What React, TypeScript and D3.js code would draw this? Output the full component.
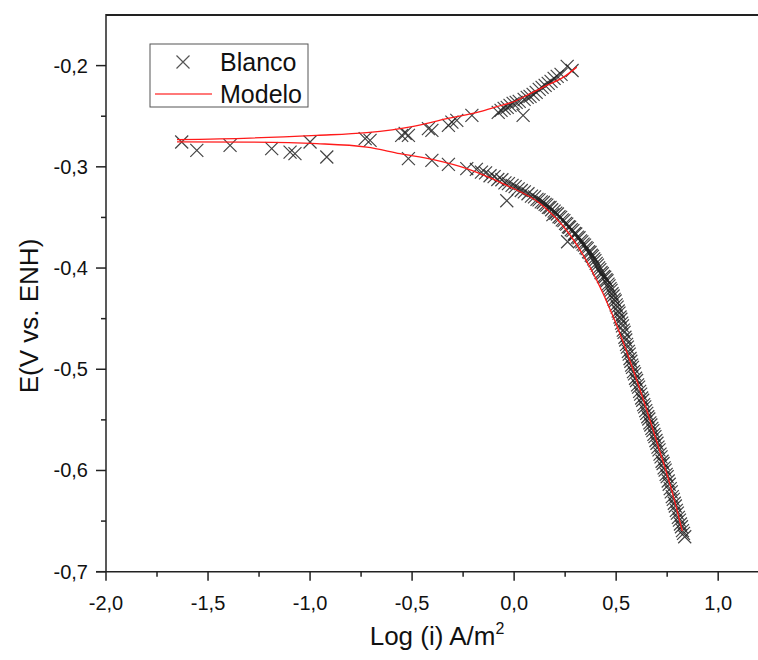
import React from "react";
import * as d3 from "d3";

// ---- data ----
const anodicX = [-1.629,-1.392,-1.188,-1.0,-0.73,-0.706,-0.551,-0.534,-0.518,-0.42,-0.403,-0.322,-0.305,-0.281,-0.207,-0.078,-0.064,-0.049,-0.034,-0.02,-0.005,0.01,0.025,0.044,0.049,0.064,0.078,0.093,0.108,0.123,0.137,0.152,0.167,0.181,0.196,0.211,0.23,0.26,0.284];
const anodicY = [-0.2755,-0.2788,-0.282,-0.2755,-0.2722,-0.2738,-0.2689,-0.2669,-0.2689,-0.2623,-0.264,-0.259,-0.2558,-0.2541,-0.2492,-0.2462,-0.2442,-0.2422,-0.2413,-0.2393,-0.2373,-0.2363,-0.2353,-0.2492,-0.2333,-0.2314,-0.2304,-0.2284,-0.2264,-0.2235,-0.2215,-0.2195,-0.2176,-0.2156,-0.2126,-0.2107,-0.2087,-0.2008,-0.2048];

const cathodicX = [-1.555,-1.098,-1.074,-0.918,-0.518,-0.403,-0.322,-0.232,-0.185,-0.16,-0.14,-0.118,-0.098,-0.08,-0.06,-0.045,-0.036,-0.028,-0.01,0.005,0.02,0.035,0.05,0.068,0.085,0.1,0.112,0.122,0.133,0.143,0.152,0.16,0.168,0.176,0.184,0.19,0.196,0.204,0.212,0.22,0.228,0.236,0.244,0.252,0.258,0.262,0.266,0.272,0.28,0.288,0.296,0.302,0.31,0.318,0.325,0.332,0.338,0.345,0.352,0.358,0.365,0.372,0.378,0.384,0.39,0.396,0.402,0.408,0.414,0.42,0.426,0.432,0.438,0.444,0.45,0.455,0.46,0.465,0.47,0.475,0.48,0.485,0.49,0.495,0.5,0.505,0.51,0.514,0.519,0.523,0.527,0.531,0.535,0.539,0.543,0.547,0.551,0.555,0.56,0.564,0.568,0.572,0.576,0.58,0.585,0.59,0.595,0.6,0.605,0.61,0.615,0.62,0.625,0.63,0.635,0.64,0.645,0.65,0.655,0.66,0.665,0.67,0.675,0.68,0.685,0.69,0.695,0.7,0.705,0.71,0.715,0.72,0.725,0.73,0.735,0.74,0.745,0.75,0.755,0.76,0.765,0.77,0.775,0.78,0.785,0.79,0.795,0.8,0.805,0.81,0.815,0.82,0.825,0.83,0.836];
const cathodicY = [-0.2837,-0.2854,-0.287,-0.2903,-0.2919,-0.2936,-0.2976,-0.3018,-0.3025,-0.3052,-0.306,-0.3088,-0.3097,-0.3125,-0.3128,-0.3158,-0.3335,-0.3166,-0.3183,-0.3195,-0.3218,-0.3234,-0.3248,-0.3266,-0.3289,-0.3297,-0.3321,-0.3326,-0.3346,-0.3352,-0.3371,-0.3378,-0.3401,-0.3402,-0.3424,-0.3472,-0.3437,-0.3458,-0.3466,-0.3493,-0.3499,-0.3524,-0.3531,-0.3559,-0.3566,-0.374,-0.3592,-0.3597,-0.3622,-0.3631,-0.3659,-0.3664,-0.3694,-0.3701,-0.3732,-0.3741,-0.3764,-0.3774,-0.3799,-0.3808,-0.3839,-0.3846,-0.3874,-0.3884,-0.3909,-0.3926,-0.3954,-0.3971,-0.3999,-0.4016,-0.4044,-0.4056,-0.4084,-0.4091,-0.4114,-0.4126,-0.4159,-0.4176,-0.4204,-0.4221,-0.4254,-0.4276,-0.4309,-0.4326,-0.4364,-0.4386,-0.4424,-0.4446,-0.4484,-0.4506,-0.4544,-0.4571,-0.4614,-0.4636,-0.4684,-0.4711,-0.4754,-0.4781,-0.4824,-0.4851,-0.4894,-0.4921,-0.4959,-0.4981,-0.5024,-0.5046,-0.5089,-0.5111,-0.5154,-0.5176,-0.5219,-0.5246,-0.5284,-0.5306,-0.5349,-0.5371,-0.5409,-0.5436,-0.5469,-0.5491,-0.5529,-0.5551,-0.5584,-0.5606,-0.5644,-0.5666,-0.5704,-0.5731,-0.5769,-0.5796,-0.5839,-0.5866,-0.5909,-0.5931,-0.5974,-0.5996,-0.6039,-0.6061,-0.6104,-0.6136,-0.6179,-0.6211,-0.6259,-0.6286,-0.6324,-0.6351,-0.6394,-0.6421,-0.6464,-0.6491,-0.6529,-0.6556,-0.6594,-0.6621,-0.6655];

const upperModelX = [-1.652,-1.294,-0.967,-0.722,-0.494,-0.33,-0.167,-0.085,-0.003,0.078,0.16,0.242,0.307];
const upperModelY = [-0.2731,-0.2716,-0.2689,-0.2662,-0.26,-0.2524,-0.2455,-0.2406,-0.2357,-0.2277,-0.2196,-0.2114,-0.2015];
const lowerModelX = [-1.652,-1.294,-0.967,-0.722,-0.559,-0.396,-0.232,-0.167,-0.036,0.127,0.275,0.405,0.479,0.601,0.707,0.781,0.824];
const lowerModelY = [-0.2753,-0.2756,-0.2771,-0.2805,-0.287,-0.2929,-0.3018,-0.3067,-0.3183,-0.3363,-0.3676,-0.412,-0.4449,-0.5108,-0.5766,-0.626,-0.6598];

const xMajorTicks = [-2.0,-1.5,-1.0,-0.5,0.0,0.5,1.0];
const yMajorTicks = [-0.7,-0.6,-0.5,-0.4,-0.3,-0.2];
const seriesNames = ["Blanco","Modelo"];

const W = 758, H = 660;
const L = 106, R = 759, T = 15, B = 571.7;

const fmt = (v: number) => v.toFixed(1).replace(".", ",");

export default function App() {
  const x = d3.scaleLinear().domain([-2, 1.2]).range([L, R]);
  const y = d3.scaleLinear().domain([-0.7, -0.15]).range([B, T]);
  const xMinor = xMajorTicks.map(v => v + 0.25).filter(v => v < 1.2);
  const yMinor = yMajorTicks.map(v => v + 0.05).filter(v => v < -0.151);

  const line = d3.line<[number, number]>().x(d => x(d[0])).y(d => y(d[1])).curve(d3.curveMonotoneX);
  const upper = line(upperModelX.map((v, i) => [v, upperModelY[i]]) as [number, number][]) || "";
  const lower = line(lowerModelX.map((v, i) => [v, lowerModelY[i]]) as [number, number][]) || "";

  const s = 6.5;
  const cross = (cx: number, cy: number, k: string) => (
    <path key={k} d={`M${cx - s},${cy - s}L${cx + s},${cy + s}M${cx - s},${cy + s}L${cx + s},${cy - s}`} />
  );
  const font = "'Liberation Sans', Arial, Helvetica, sans-serif";

  return (
    <svg width={W} height={H} style={{ position: "absolute", left: 0, top: 0, background: "#fff" }} fontFamily={font}>
      <rect x={0} y={0} width={W} height={H} fill="#fff" />
      {/* data markers */}
      <g stroke="#222" strokeWidth={1.2} strokeOpacity={0.85} fill="none">
        {anodicX.map((v, i) => cross(x(v), y(anodicY[i]), "a" + i))}
        {cathodicX.map((v, i) => cross(x(v), y(cathodicY[i]), "c" + i))}
      </g>
      {/* model */}
      <g stroke="#ff1a1a" strokeWidth={1.3} fill="none">
        <path d={upper} />
        <path d={lower} />
      </g>
      {/* frame */}
      <line x1={L} x2={W} y1={T} y2={T} stroke="#222" strokeWidth={2} />
      <line x1={L} x2={L} y1={T - 1} y2={B} stroke="#222" strokeWidth={1.5} />
      <line x1={L - 10} x2={W} y1={B} y2={B} stroke="#222" strokeWidth={1.5} />
      {/* x ticks */}
      {xMajorTicks.map(v => (
        <g key={"xt" + v}>
          <line x1={x(v)} x2={x(v)} y1={B} y2={B + 9} stroke="#222" strokeWidth={1.5} />
          <text x={x(v)} y={B + 38} textAnchor="middle" fontSize={20} fill="#111">{fmt(v)}</text>
        </g>
      ))}
      {xMinor.map(v => (
        <line key={"xm" + v} x1={x(v)} x2={x(v)} y1={B} y2={B + 5} stroke="#222" strokeWidth={1.5} />
      ))}
      {/* y ticks */}
      {yMajorTicks.map(v => (
        <g key={"yt" + v}>
          <line x1={L - 10} x2={L} y1={y(v)} y2={y(v)} stroke="#222" strokeWidth={1.5} />
          <text x={L - 18} y={y(v) + 7} textAnchor="end" fontSize={20} fill="#111">{fmt(v)}</text>
        </g>
      ))}
      {yMinor.map(v => (
        <line key={"ym" + v} x1={L - 5} x2={L} y1={y(v)} y2={y(v)} stroke="#222" strokeWidth={1.5} />
      ))}
      {/* axis titles */}
      <text x={437} y={645} textAnchor="middle" fontSize={26} fill="#111">
        Log (i) A/m<tspan dy={-11} fontSize={16}>2</tspan>
      </text>
      <text transform={`translate(38,316) rotate(-90)`} textAnchor="middle" fontSize={26} fill="#111">E(V vs. ENH)</text>
      {/* legend */}
      <rect x={150} y={44} width={158} height={63} fill="#fff" stroke="#555" strokeWidth={1} />
      <g stroke="#2a2a2a" strokeWidth={1.2} strokeOpacity={0.8} fill="none">{cross(183, 62, "lg")}</g>
      <line x1={155} x2={212} y1={94} y2={94} stroke="#ff4d4d" strokeWidth={1.3} />
      <text x={220} y={71} fontSize={25} fill="#111">{seriesNames[0]}</text>
      <text x={220} y={103} fontSize={25} fill="#111">{seriesNames[1]}</text>
    </svg>
  );
}
